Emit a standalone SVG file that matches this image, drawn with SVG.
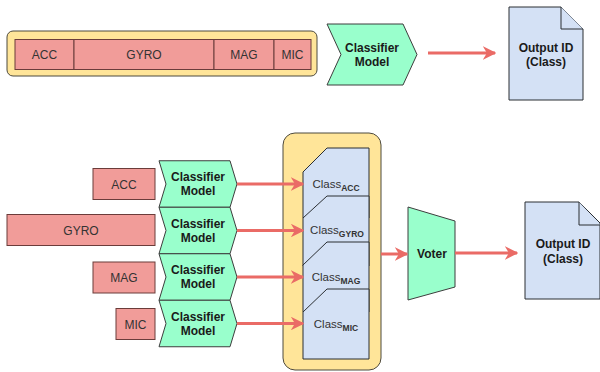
<svg xmlns="http://www.w3.org/2000/svg" width="600" height="372" viewBox="0 0 600 372">
  <defs>
    <style>
      .sensor { fill: #F19C99; stroke: #6b3c3a; stroke-width: 1; }
      .group { fill: #FFE599; stroke: #4d4a3e; stroke-width: 1; }
      .model { fill: #99FFCC; stroke: #3d3d3d; stroke-width: 1; }
      .card { fill: #D4E1F5; stroke: #2b2f33; stroke-width: 1; }
      .doc { fill: #D4E1F5; stroke: #2b2f33; stroke-width: 1; }
      .lbl { font-family: "Liberation Sans", Arial, sans-serif; font-size: 12px; fill: #333333; text-anchor: middle; }
      .bold { font-family: "Liberation Sans", Arial, sans-serif; font-size: 12px; font-weight: bold; fill: #1a1a1a; text-anchor: middle; }
      .cls { font-family: "Liberation Sans", Arial, sans-serif; font-size: 11.5px; fill: #333333; text-anchor: middle; }
      .sub { font-size: 8.5px; font-weight: bold; }
      .edge { stroke: #EA6B66; stroke-width: 3; fill: none; marker-end: url(#arrow); }
    </style>
    <marker id="arrow" viewBox="0 0 10 10" refX="9" refY="5" markerWidth="4.5" markerHeight="4.5" markerUnits="strokeWidth" orient="auto">
      <path d="M0,0 L10,5 L0,10 L3,5 Z" fill="#EA6B66"/>
    </marker>
    <!-- step (chevron) shape, 78 x 46.5 -->
    <path id="step" d="M0,0 H71 L78,23.25 L71,46.5 H0 L7,23.25 Z"/>
  </defs>

  <!-- top: concatenated sensor vector -->
  <g id="concat">
    <rect class="group" x="7" y="31" width="310" height="45" rx="6"/>
    <g id="top-acc">
      <rect class="sensor" x="15" y="39.5" width="59" height="30"/>
      <text class="lbl" x="44.5" y="58.5">ACC</text>
    </g>
    <g id="top-gyro">
      <rect class="sensor" x="74" y="39.5" width="140" height="30"/>
      <text class="lbl" x="144" y="58.5">GYRO</text>
    </g>
    <g id="top-mag">
      <rect class="sensor" x="214" y="39.5" width="60" height="30"/>
      <text class="lbl" x="244" y="58.5">MAG</text>
    </g>
    <g id="top-mic">
      <rect class="sensor" x="274" y="39.5" width="37" height="30"/>
      <text class="lbl" x="292.5" y="58.5">MIC</text>
    </g>
  </g>

  <g id="top-model">
    <path class="model" d="M327,24 H403 L417,54.5 L403,85 H327 L341,54.5 Z"/>
    <text class="bold" x="372" y="52">Classifier</text>
    <text class="bold" x="372" y="66">Model</text>
  </g>

  <g id="top-output">
    <path class="doc" d="M509,7 H561 L583,29 V100 H509 Z"/>
    <path class="doc" d="M561,7 V29 H583" fill="none"/>
    <text class="bold" x="546" y="52">Output ID</text>
    <text class="bold" x="546" y="66">(Class)</text>
  </g>

  <!-- bottom: per-sensor classifiers -->
  <g id="acc">
    <rect class="sensor" x="93" y="168.5" width="62" height="31"/>
    <text class="lbl" x="124" y="188.5">ACC</text>
  </g>
  <g id="gyro">
    <rect class="sensor" x="7" y="214.5" width="148" height="31"/>
    <text class="lbl" x="81" y="234.5">GYRO</text>
  </g>
  <g id="mag">
    <rect class="sensor" x="93" y="262" width="62" height="31"/>
    <text class="lbl" x="124" y="282">MAG</text>
  </g>
  <g id="mic">
    <rect class="sensor" x="116" y="308.5" width="39" height="31"/>
    <text class="lbl" x="135.5" y="328.5">MIC</text>
  </g>

  <g id="model-acc">
    <use href="#step" class="model" x="159" y="160.75"/>
    <text class="bold" x="198" y="181">Classifier</text>
    <text class="bold" x="198" y="195">Model</text>
  </g>
  <g id="model-gyro">
    <use href="#step" class="model" x="159" y="207.25"/>
    <text class="bold" x="198" y="227.5">Classifier</text>
    <text class="bold" x="198" y="241.5">Model</text>
  </g>
  <g id="model-mag">
    <use href="#step" class="model" x="159" y="253.75"/>
    <text class="bold" x="198" y="274">Classifier</text>
    <text class="bold" x="198" y="288">Model</text>
  </g>
  <g id="model-mic">
    <use href="#step" class="model" x="159" y="300.25"/>
    <text class="bold" x="198" y="320.5">Classifier</text>
    <text class="bold" x="198" y="334.5">Model</text>
  </g>

  <!-- stacked class predictions -->
  <g id="predictions">
    <rect class="group" x="283" y="133" width="98" height="237" rx="12"/>
    <g id="class-acc">
      <path class="card" d="M327,148 H369 V218 H303 V172 Z"/>
      <text class="cls" x="336" y="188">Class<tspan class="sub" dy="3">ACC</tspan></text>
    </g>
    <g id="class-gyro">
      <path class="card" d="M327,196 H369 V266 H303 V218 Z"/>
      <text class="cls" x="337" y="234">Class<tspan class="sub" dy="3">GYRO</tspan></text>
    </g>
    <g id="class-mag">
      <path class="card" d="M327,242 H369 V312 H303 V265 Z"/>
      <text class="cls" x="336" y="281">Class<tspan class="sub" dy="3">MAG</tspan></text>
    </g>
    <g id="class-mic">
      <path class="card" d="M327,289 H369 V359 H303 V312 Z"/>
      <text class="cls" x="336" y="328">Class<tspan class="sub" dy="3">MIC</tspan></text>
    </g>
  </g>

  <g id="voter">
    <path class="model" d="M408,207 L455,221 V287 L408,300 Z"/>
    <text class="bold" x="432" y="258">Voter</text>
  </g>

  <g id="output">
    <path class="doc" d="M525,202 H579 L600,223 V299 H525 Z"/>
    <path class="doc" d="M579,202 V225 H600" fill="none"/>
    <text class="bold" x="563" y="248">Output ID</text>
    <text class="bold" x="563" y="263">(Class)</text>
  </g>

  <!-- connectors, drawn last so the arrowheads sit on top of the container -->
  <g id="connectors">
    <line class="edge" x1="428" y1="53" x2="495" y2="53"/>
    <line class="edge" x1="237" y1="184" x2="303" y2="184"/>
    <line class="edge" x1="237" y1="230.5" x2="303" y2="230.5"/>
    <line class="edge" x1="237" y1="277" x2="303" y2="277"/>
    <line class="edge" x1="237" y1="323.5" x2="303" y2="323.5"/>
    <line class="edge" x1="381" y1="254" x2="407" y2="254"/>
    <line class="edge" x1="455" y1="253" x2="517" y2="253"/>
  </g>
</svg>
